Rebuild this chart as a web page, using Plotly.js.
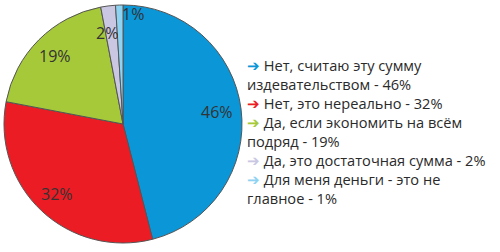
<!DOCTYPE html>
<html>
<head>
<meta charset="utf-8">
<script src="https://cdn.plot.ly/plotly-3.0.1.min.js"></script>
<style>html,body{margin:0;padding:0;background:#fff;}#chart{width:500px;height:252px;}</style>
</head>
<body>
<div id="chart"></div>
<script>
const categories = [
  "Нет, считаю эту сумму<br>издевательством",
  "Нет, это нереально",
  "Да, если экономить на всём<br>подряд",
  "Да, это достаточная сумма",
  "Для меня деньги - это не<br>главное"
];
const values = [46, 32, 19, 2, 1];
const colors = ["#0A96D7", "#EC1C24", "#A6C93A", "#C9C7E2", "#8FD3F2"];

const W = 500, H = 252;
const cxPx = 123, cyPx = 124, R = 119;
const domX = [(cxPx - R) / W, (cxPx + R) / W];
const domY = [1 - (cyPx + R) / H, 1 - (cyPx - R) / H];

const trace = {
  type: "pie",
  labels: categories,
  values: values,
  sort: false,
  direction: "clockwise",
  rotation: 0,
  marker: { colors: colors, line: { color: "#555555", width: 1 } },
  textinfo: "none",
  hoverinfo: "none",
  showlegend: false,
  domain: { x: domX, y: domY }
};

// percentage labels placed at mid-angle of each slice
const labelR = [0.8, 0.81, 0.81, 0.775, 0.93];
const labelShift = [0, 0, 0, -3, 7];
const total = values.reduce((a, b) => a + b, 0);
const annotations = [];
let cum = 0;
values.forEach((v, i) => {
  const mid = (cum + v / 2) / total * 2 * Math.PI + labelShift[i] * Math.PI / 180;
  cum += v;
  const px = cxPx + R * labelR[i] * Math.sin(mid);
  const py = cyPx - R * labelR[i] * Math.cos(mid);
  annotations.push({
    x: px / W, y: 1 - py / H, xref: "paper", yref: "paper",
    text: v + "%", showarrow: false,
    font: { family: "Open Sans, Noto Sans, sans-serif", size: 16, color: "#333333" },
    xanchor: "center", yanchor: "middle"
  });
});

// legend with coloured arrows, one annotation per text line
const legX = 246, legY0 = 64.5, legStep = 19.1;
let lineNo = 0;
categories.forEach((c, i) => {
  const parts = c.split("<br>");
  parts.forEach((p, j) => {
    let t = p;
    if (j === 0) t = '<span style="color:' + colors[i] + '">➔</span> ' + t;
    if (j === parts.length - 1) t = t + " - " + values[i] + "%";
    annotations.push({
      x: legX / W, y: 1 - (legY0 + lineNo * legStep) / H, xref: "paper", yref: "paper",
      text: t, showarrow: false, align: "left", borderpad: 0,
      xanchor: "left", yanchor: "middle",
      font: { family: "Open Sans, Noto Sans, sans-serif", size: 14.6, color: "#2a2a2a" }
    });
    lineNo++;
  });
});

const layout = {
  width: W, height: H,
  margin: { l: 0, r: 0, t: 0, b: 0 },
  paper_bgcolor: "#ffffff",
  showlegend: false,
  annotations: annotations
};

Plotly.newPlot("chart", [trace], layout, { staticPlot: true, displayModeBar: false });
</script>
</body>
</html>
